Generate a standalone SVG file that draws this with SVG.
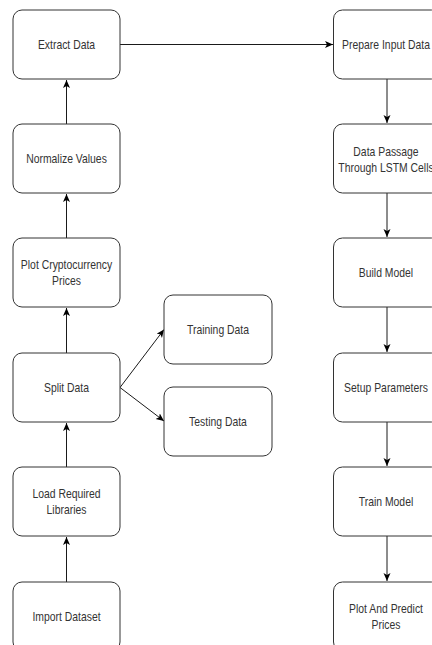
<svg xmlns="http://www.w3.org/2000/svg" width="432" height="645" viewBox="0 0 432 645">
<style>
.box{fill:#ffffff;stroke:#333333;stroke-width:1}
.lbl{font-family:"Liberation Sans",Arial,sans-serif;font-size:13px;fill:#333333;text-anchor:middle}
.edge{fill:none;stroke:#1a1a1a;stroke-width:1}
</style>
<defs>
<marker id="ah" markerUnits="userSpaceOnUse" markerWidth="9" markerHeight="8" refX="8" refY="3.5" orient="auto">
<path d="M0,0 L8,3.5 L0,7 L2,3.5 Z" fill="#000000"/>
</marker>
</defs>
<rect width="432" height="645" fill="#ffffff"/>
<g id="connectors">
<line class="edge" x1="66.5" y1="582" x2="66.5" y2="537" marker-end="url(#ah)"/>
<line class="edge" x1="66.5" y1="467" x2="66.5" y2="423" marker-end="url(#ah)"/>
<line class="edge" x1="66.5" y1="353" x2="66.5" y2="308" marker-end="url(#ah)"/>
<line class="edge" x1="66.5" y1="238" x2="66.5" y2="194" marker-end="url(#ah)"/>
<line class="edge" x1="66.5" y1="124" x2="66.5" y2="80" marker-end="url(#ah)"/>
<line class="edge" x1="120" y1="44.5" x2="333" y2="44.5" marker-end="url(#ah)"/>
<line class="edge" x1="120" y1="387.5" x2="164" y2="329.5" marker-end="url(#ah)"/>
<line class="edge" x1="120" y1="387.5" x2="164" y2="421" marker-end="url(#ah)"/>
<line class="edge" x1="387" y1="79" x2="387" y2="123" marker-end="url(#ah)"/>
<line class="edge" x1="387" y1="193" x2="387" y2="237" marker-end="url(#ah)"/>
<line class="edge" x1="387" y1="307" x2="387" y2="352" marker-end="url(#ah)"/>
<line class="edge" x1="387" y1="422" x2="387" y2="466" marker-end="url(#ah)"/>
<line class="edge" x1="387" y1="536" x2="387" y2="581" marker-end="url(#ah)"/>
</g>
<g id="extract-data">
<rect class="box" x="13" y="10" width="107" height="69" rx="9"/>
<text class="lbl" transform="translate(66.5 49) scale(0.8 1)">Extract Data</text>
</g>
<g id="normalize-values">
<rect class="box" x="13" y="124" width="107" height="69" rx="9"/>
<text class="lbl" transform="translate(66.5 163) scale(0.8 1)">Normalize Values</text>
</g>
<g id="plot-crypto">
<rect class="box" x="13" y="238" width="107" height="69" rx="9"/>
<text class="lbl" transform="translate(66.5 268.5) scale(0.8 1)">Plot Cryptocurrency</text>
<text class="lbl" transform="translate(66.5 284.5) scale(0.8 1)">Prices</text>
</g>
<g id="split-data">
<rect class="box" x="13" y="353" width="107" height="69" rx="9"/>
<text class="lbl" transform="translate(66.5 392) scale(0.8 1)">Split Data</text>
</g>
<g id="load-libraries">
<rect class="box" x="13" y="467" width="107" height="69" rx="9"/>
<text class="lbl" transform="translate(66.5 497.5) scale(0.8 1)">Load Required</text>
<text class="lbl" transform="translate(66.5 513.5) scale(0.8 1)">Libraries</text>
</g>
<g id="import-dataset">
<rect class="box" x="13" y="582" width="107" height="69" rx="9"/>
<text class="lbl" transform="translate(66.5 621) scale(0.8 1)">Import Dataset</text>
</g>
<g id="training-data">
<rect class="box" x="164" y="295" width="108" height="69" rx="9"/>
<text class="lbl" transform="translate(218 334) scale(0.8 1)">Training Data</text>
</g>
<g id="testing-data">
<rect class="box" x="164" y="387" width="108" height="69" rx="9"/>
<text class="lbl" transform="translate(218 426) scale(0.8 1)">Testing Data</text>
</g>
<g id="prepare-input">
<rect class="box" x="333.5" y="10" width="107" height="69" rx="9"/>
<text class="lbl" transform="translate(386 49) scale(0.8 1)">Prepare Input Data</text>
</g>
<g id="data-passage">
<rect class="box" x="333.5" y="124" width="107" height="69" rx="9"/>
<text class="lbl" transform="translate(386 156) scale(0.8 1)">Data Passage</text>
<text class="lbl" transform="translate(386 172) scale(0.8 1)">Through LSTM Cells</text>
</g>
<g id="build-model">
<rect class="box" x="333.5" y="238" width="107" height="69" rx="9"/>
<text class="lbl" transform="translate(386 277) scale(0.8 1)">Build Model</text>
</g>
<g id="setup-parameters">
<rect class="box" x="333.5" y="353" width="107" height="69" rx="9"/>
<text class="lbl" transform="translate(386 392) scale(0.8 1)">Setup Parameters</text>
</g>
<g id="train-model">
<rect class="box" x="333.5" y="467" width="107" height="69" rx="9"/>
<text class="lbl" transform="translate(386 506) scale(0.8 1)">Train Model</text>
</g>
<g id="plot-predict">
<rect class="box" x="333.5" y="582" width="107" height="69" rx="9"/>
<text class="lbl" transform="translate(386 612.5) scale(0.8 1)">Plot And Predict</text>
<text class="lbl" transform="translate(386 628.5) scale(0.8 1)">Prices</text>
</g>
</svg>
